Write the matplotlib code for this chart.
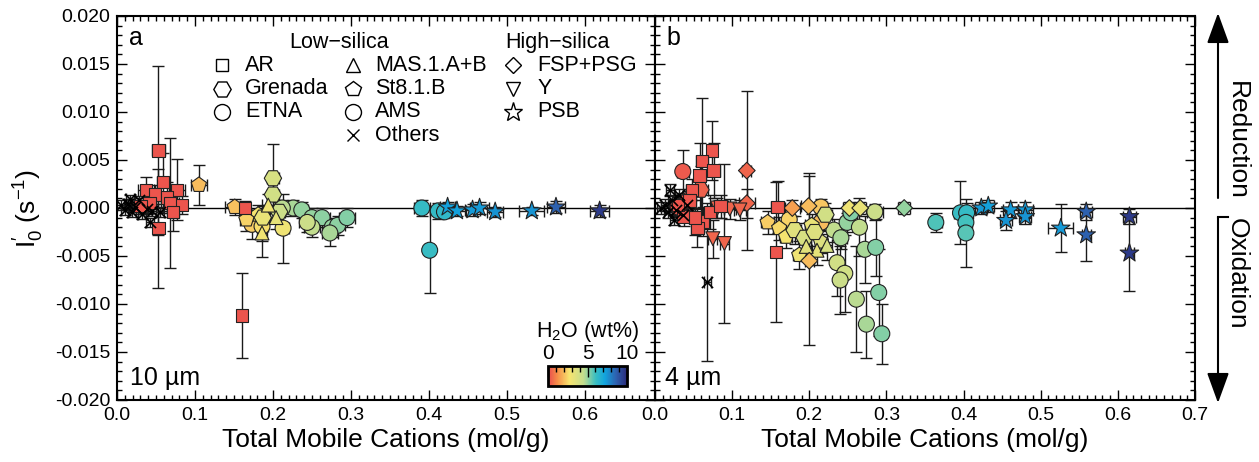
import numpy as np
import matplotlib.pyplot as plt
from matplotlib.colors import LinearSegmentedColormap
from matplotlib.cm import ScalarMappable
from matplotlib.ticker import MultipleLocator, FormatStrFormatter
from matplotlib.lines import Line2D

plt.rcParams['font.family'] = ['Liberation Sans', 'DejaVu Sans']
plt.rcParams['mathtext.fontset'] = 'custom'
plt.rcParams['mathtext.rm'] = 'Liberation Sans'
plt.rcParams['mathtext.it'] = 'Liberation Sans:italic'
plt.rcParams['mathtext.default'] = 'regular'

# ---- panel a (10 um) ----
a_kind = (['AR'] * 14 + ['Others'] * 12 + ['St8'] * 4 + ['Grenada'] * 4 + ['MAS'] * 3
          + ['ETNA'] * 3 + ['AMS'] * 11 + ['ETNA'] * 4 + ['PSB'] * 8)
a_x = [0.053, 0.037, 0.059, 0.049, 0.077, 0.064, 0.083, 0.042, 0.053, 0.164, 0.160, 0.068, 0.030, 0.072,
       0.005, 0.010, 0.014, 0.019, 0.023, 0.028, 0.032, 0.038, 0.045, 0.017, 0.055, 0.042,
       0.105, 0.151, 0.181, 0.166,
       0.200, 0.200, 0.187, 0.208,
       0.194, 0.186, 0.204,
       0.213, 0.173, 0.186,
       0.226, 0.237, 0.250, 0.263, 0.276, 0.283, 0.295, 0.212, 0.250, 0.273, 0.244,
       0.391, 0.401, 0.412, 0.420,
       0.424, 0.436, 0.456, 0.465, 0.485, 0.532, 0.563, 0.619]
a_y = [0.0060, 0.0019, 0.0027, 0.0014, 0.0019, 0.0011, 0.0003, 0.0005, -0.0021, 0.0000, -0.0112, 0.0005, 0.0002, -0.0004,
       0.0003, -0.0002, 0.0004, -0.0004, 0.0001, 0.0008, -0.0006, -0.0001, -0.0003, 0.0009, -0.0004, -0.0015,
       0.0024, 0.0001, -0.0007, -0.0012,
       0.0031, 0.0014, -0.0010, -0.0004,
       0.0003, -0.0026, -0.0010,
       -0.0021, -0.0017, -0.0019,
       0.0000, -0.0002, -0.0010, -0.0010, -0.0020, -0.0018, -0.0010, 0.0000, -0.0020, -0.0026, -0.0015,
       0.0000, -0.0044, -0.0003, -0.0004,
       0.0001, -0.0003, -0.0002, 0.0000, -0.0004, -0.0003, 0.0001, -0.0003]
a_xerr = [0.008, 0.010, 0.008, 0.006, 0.010, 0.008, 0.006, 0.008, 0.006, 0.006, 0.004, 0.012, 0.008, 0.008,
          0.005, 0.005, 0.005, 0.005, 0.005, 0.005, 0.005, 0.005, 0.005, 0.005, 0.005, 0.005,
          0.010, 0.012, 0.008, 0.008,
          0.008, 0.008, 0.008, 0.008,
          0.008, 0.006, 0.008,
          0.008, 0.008, 0.008,
          0.008, 0.008, 0.010, 0.010, 0.010, 0.010, 0.010, 0.008, 0.010, 0.010, 0.010,
          0.010, 0.006, 0.010, 0.008,
          0.010, 0.012, 0.010, 0.012, 0.010, 0.016, 0.012, 0.012]
a_yerr = [0.0088, 0.0013, 0.0030, 0.0010, 0.0032, 0.0016, 0.0009, 0.0010, 0.0062, 0.0007, 0.0044, 0.0068, 0.0008, 0.0020,
          0.0005, 0.0005, 0.0005, 0.0005, 0.0005, 0.0005, 0.0005, 0.0005, 0.0005, 0.0005, 0.0005, 0.0005,
          0.0021, 0.0008, 0.0010, 0.0012,
          0.0036, 0.0015, 0.0012, 0.0010,
          0.0012, 0.0025, 0.0012,
          0.0036, 0.0015, 0.0015,
          0.0008, 0.0008, 0.0010, 0.0010, 0.0010, 0.0010, 0.0010, 0.0008, 0.0010, 0.0014, 0.0010,
          0.0008, 0.0045, 0.0008, 0.0006,
          0.0005, 0.0005, 0.0006, 0.0006, 0.0005, 0.0004, 0.0006, 0.0006]
a_h2o = ([0.2] * 14 + [np.nan] * 12 + [2.0, 2.1, 2.8, 2.4] + [3.8, 4.0, 3.2, 4.2] + [3.0, 2.9, 3.3]
         + [3.0, 2.3, 2.6]
         + [4.8, 5.0, 5.0, 5.1, 5.0, 5.1, 5.2, 4.6, 4.5, 4.8, 4.2]
         + [6.2, 6.1, 6.2, 6.3]
         + [7.3, 7.3, 7.4, 7.4, 7.5, 7.5, 8.6, 9.6])

# ---- panel b (4 um) ----
b_kind = (['AR'] * 15 + ['ETNA'] * 3 + ['Grenada'] * 5 + ['FSP'] * 8 + ['Y'] * 5 + ['Others'] * 11
          + ['St8'] * 6 + ['MAS'] * 3 + ['ETNA'] * 3 + ['AMS'] * 20 + ['PSB'] * 11)
b_x = [0.074, 0.061, 0.076, 0.058, 0.048, 0.062, 0.159, 0.157, 0.045, 0.071, 0.037, 0.055, 0.052, 0.085, 0.030,
       0.036, 0.043, 0.030,
       0.059, 0.181, 0.194, 0.221, 0.207,
       0.119, 0.119, 0.178, 0.199, 0.252, 0.266, 0.323, 0.200,
       0.075, 0.090, 0.081, 0.097, 0.110,
       0.013, 0.017, 0.022, 0.027, 0.031, 0.036, 0.041, 0.068, 0.019, 0.008, 0.025,
       0.146, 0.161, 0.203, 0.187, 0.170, 0.215,
       0.210, 0.223, 0.196,
       0.174, 0.215, 0.215,
       0.232, 0.241, 0.249, 0.254, 0.285,
       0.265, 0.272, 0.286, 0.236, 0.246, 0.240, 0.261, 0.274, 0.290, 0.294,
       0.364, 0.396, 0.404, 0.403, 0.403,
       0.423, 0.432, 0.461, 0.455, 0.480, 0.480, 0.526, 0.559, 0.559, 0.615, 0.615]
b_y = [0.0060, 0.0049, 0.0039, 0.0034, 0.0019, -0.0014, 0.0001, -0.0046, 0.0008, -0.0004, -0.0009, -0.0021, -0.0010, 0.0002, 0.0003,
       0.0038, 0.0008, 0.0001,
       0.0019, -0.0023, -0.0031, -0.0007, -0.0025,
       0.0039, 0.0005, 0.0000, 0.0002, 0.0000, 0.0000, 0.0000, -0.0055,
       -0.0032, -0.0037, 0.0000, -0.0001, -0.0002,
       0.0003, -0.0004, 0.0008, -0.0002, 0.0014, -0.0007, 0.0003, -0.0077, 0.0019, 0.0000, -0.0012,
       -0.0015, -0.0021, -0.0018, -0.0049, -0.0030, -0.0035,
       -0.0044, -0.0039, -0.0040,
       -0.0012, 0.0001, -0.0015,
       -0.0023, -0.0031, -0.0015, -0.0005, -0.0004,
       -0.0020, -0.0043, -0.0041, -0.0057, -0.0068, -0.0075, -0.0095, -0.0121, -0.0088, -0.0131,
       -0.0015, -0.0005, -0.0005, -0.0015, -0.0026,
       0.0000, 0.0002, -0.0002, -0.0013, -0.0002, -0.0009, -0.0021, -0.0004, -0.0028, -0.0009, -0.0047]
b_xerr = [0.006, 0.008, 0.008, 0.008, 0.008, 0.008, 0.008, 0.004, 0.008, 0.008, 0.008, 0.008, 0.008, 0.010, 0.010,
          0.008, 0.008, 0.008,
          0.010, 0.008, 0.008, 0.008, 0.008,
          0.006, 0.010, 0.010, 0.010, 0.008, 0.008, 0.008, 0.006,
          0.006, 0.006, 0.008, 0.008, 0.008,
          0.005, 0.005, 0.005, 0.005, 0.005, 0.005, 0.005, 0.004, 0.005, 0.005, 0.005,
          0.008, 0.008, 0.008, 0.008, 0.008, 0.008,
          0.006, 0.006, 0.006,
          0.008, 0.008, 0.008,
          0.008, 0.008, 0.008, 0.008, 0.010,
          0.006, 0.006, 0.006, 0.006, 0.006, 0.006, 0.006, 0.006, 0.006, 0.006,
          0.008, 0.008, 0.008, 0.008, 0.006,
          0.008, 0.008, 0.010, 0.008, 0.010, 0.008, 0.016, 0.008, 0.006, 0.008, 0.006]
b_yerr = [0.0031, 0.0066, 0.0029, 0.0034, 0.0011, 0.0015, 0.0027, 0.0073, 0.0012, 0.0018, 0.0010, 0.0020, 0.0018, 0.0012, 0.0010,
          0.0022, 0.0010, 0.0010,
          0.0025, 0.0015, 0.0015, 0.0012, 0.0015,
          0.0083, 0.0015, 0.0008, 0.0034, 0.0006, 0.0006, 0.0006, 0.0088,
          0.0020, 0.0083, 0.0010, 0.0010, 0.0010,
          0.0006, 0.0006, 0.0006, 0.0006, 0.0006, 0.0006, 0.0006, 0.0082, 0.0006, 0.0006, 0.0006,
          0.0012, 0.0012, 0.0012, 0.0015, 0.0012, 0.0012,
          0.0015, 0.0015, 0.0015,
          0.0012, 0.0008, 0.0012,
          0.0012, 0.0012, 0.0010, 0.0008, 0.0008,
          0.0030, 0.0035, 0.0030, 0.0035, 0.0040, 0.0035, 0.0055, 0.0035, 0.0045, 0.0031,
          0.0010, 0.0033, 0.0010, 0.0012, 0.0035,
          0.0006, 0.0006, 0.0008, 0.0010, 0.0008, 0.0008, 0.0025, 0.0008, 0.0027, 0.0008, 0.0039]
b_h2o = ([0.2] * 15 + [0.3] * 3 + [0.4, 3.5, 3.8, 4.0, 3.6]
         + [0.5, 0.5, 1.5, 2.0, 3.0, 3.2, 5.0, 2.0]
         + [0.5] * 5 + [np.nan] * 11
         + [2.3, 2.5, 3.2, 3.0, 2.8, 3.6]
         + [3.3, 3.8, 3.4]
         + [2.4, 2.2, 2.0]
         + [4.5, 4.8, 5.0, 5.2, 4.2]
         + [4.5, 4.8, 5.2, 4.0, 4.0, 4.2, 4.6, 4.8, 5.2, 5.2]
         + [5.8, 6.1, 6.2, 5.9, 5.7]
         + [7.4, 7.3, 7.4, 7.5, 7.4, 7.5, 7.4, 8.6, 8.6, 9.6, 9.6])

leg_low1 = ['AR', 'Grenada', 'ETNA']
leg_low2 = ['MAS', 'St8', 'AMS', 'Others']
leg_high = ['FSP', 'Y', 'PSB']
names = {'AR': 'AR', 'Grenada': 'Grenada', 'ETNA': 'ETNA', 'MAS': 'MAS.1.A+B', 'St8': 'St8.1.B',
         'AMS': 'AMS', 'Others': 'Others', 'FSP': 'FSP+PSG', 'Y': 'Y', 'PSB': 'PSB'}
markers = {'AR': 's', 'Grenada': 'H', 'ETNA': 'o', 'MAS': '^', 'St8': 'p', 'AMS': 'o',
           'Others': 'x', 'FSP': 'D', 'Y': 'v', 'PSB': '*'}
msize = {'AR': 9, 'Grenada': 12.5, 'ETNA': 11.5, 'MAS': 10, 'St8': 11.5, 'AMS': 11.5,
         'Others': 8, 'FSP': 8.5, 'Y': 10, 'PSB': 14}

cmap = LinearSegmentedColormap.from_list('h2o', [
    (0.0, '#ea4a4e'), (0.12, '#f68f48'), (0.27, '#f7e46f'), (0.45, '#c3dd8e'),
    (0.6, '#3cbfc0'), (0.72, '#11a4de'), (0.86, '#2d62b0'), (1.0, '#2b2b7a')])


def draw_panel(ax, kind, x, y, xerr, yerr, h2o):
    kind = np.array(kind)
    x, y = np.array(x), np.array(y)
    h2o = np.array(h2o)
    ax.axhline(0, color='k', lw=1, zorder=1)
    ax.errorbar(x, y, xerr=xerr, yerr=yerr, fmt='none', ecolor='#1a1a1a', elinewidth=1.0,
                capsize=4.5, capthick=1.0, zorder=2)
    for k in ['AMS', 'ETNA', 'St8', 'Grenada', 'MAS', 'FSP', 'Y', 'AR', 'PSB', 'Others']:
        m = kind == k
        if not m.any():
            continue
        if k == 'Others':
            ax.scatter(x[m], y[m], marker='x', s=msize[k] ** 2, c='k', linewidths=1.2, zorder=3)
        else:
            ax.scatter(x[m], y[m], c=h2o[m], cmap=cmap, vmin=0, vmax=10, marker=markers[k],
                       s=msize[k] ** 2, edgecolors='#222222', linewidths=0.8, zorder=3)


def style_axes(ax, xmax, left_labels):
    ax.set_xlim(0, xmax)
    ax.set_ylim(-0.020, 0.020)
    ax.xaxis.set_major_locator(MultipleLocator(0.1))
    ax.xaxis.set_minor_locator(MultipleLocator(0.01))
    ax.yaxis.set_major_locator(MultipleLocator(0.005))
    ax.yaxis.set_minor_locator(MultipleLocator(0.001))
    ax.xaxis.set_major_formatter(FormatStrFormatter('%.1f'))
    ax.yaxis.set_major_formatter(FormatStrFormatter('%.3f'))
    ax.tick_params(which='both', direction='in', top=True, right=True, labelsize=14,
                   labelleft=left_labels, pad=5)
    ax.tick_params(which='major', length=7, width=1)
    ax.tick_params(which='minor', length=3.5, width=1)
    for s in ax.spines.values():
        s.set_linewidth(1.5)
    ax.set_xlabel('Total Mobile Cations (mol/g)', fontsize=19, labelpad=3)


fig = plt.figure(figsize=(12.59, 4.62), dpi=100)
ax1 = fig.add_axes([117 / 1259, 62 / 462, 538 / 1259, 384 / 462])
ax2 = fig.add_axes([655 / 1259, 62 / 462, 540 / 1259, 384 / 462])

draw_panel(ax1, a_kind, a_x, a_y, a_xerr, a_yerr, a_h2o)
draw_panel(ax2, b_kind, b_x, b_y, b_xerr, b_yerr, b_h2o)
style_axes(ax1, 0.69, True)
style_axes(ax2, 0.7, False)
ax1.set_ylabel(r"I$_0^{\prime}$ (s$^{-1}$)", fontsize=19, labelpad=6)

ax1.text(0.022, 0.975, 'a', transform=ax1.transAxes, fontsize=18, va='top')
ax2.text(0.022, 0.975, 'b', transform=ax2.transAxes, fontsize=18, va='top')
ax1.text(0.025, 0.025, '10 µm', transform=ax1.transAxes, fontsize=18, va='bottom')
ax2.text(0.018, 0.025, '4 µm', transform=ax2.transAxes, fontsize=18, va='bottom')

# legend built from open markers
row_y0, row_dy = 0.872, 0.061
for col, (mx, tx) in zip([leg_low1, leg_low2, leg_high], [(0.195, 0.238), (0.439, 0.480), (0.736, 0.781)]):
    for i, k in enumerate(col):
        yy = row_y0 - i * row_dy
        ax1.add_line(Line2D([mx], [yy], marker=markers[k], markersize=msize[k] * 1.0,
                            markerfacecolor='white', markeredgecolor='k', markeredgewidth=1.0,
                            linestyle='none', transform=ax1.transAxes))
        ax1.text(tx, yy, names[k], transform=ax1.transAxes, fontsize=15.5, va='center', ha='left')
ax1.text(0.413, 0.932, 'Low\u2212silica', transform=ax1.transAxes, fontsize=15.5, va='center', ha='center')
ax1.text(0.721, 0.932, 'High\u2212silica', transform=ax1.transAxes, fontsize=15.5, va='center', ha='left')

# colorbar
cax = fig.add_axes([548 / 1259, 76 / 462, 79 / 1259, 20 / 462])
cb = fig.colorbar(ScalarMappable(cmap=cmap, norm=plt.Normalize(0, 10)), cax=cax, orientation='horizontal')
cb.set_ticks([0, 5, 10])
cax.xaxis.set_minor_locator(MultipleLocator(1))
cax.tick_params(axis='x', which='both', direction='in', top=True, bottom=False,
                labeltop=True, labelbottom=False, labelsize=15, pad=2, width=1)
cax.tick_params(axis='x', which='major', length=8)
cax.tick_params(axis='x', which='minor', length=4)
cb.outline.set_linewidth(2)
cax.set_title('H$_2$O (wt%)', fontsize=15.5, pad=3)

# reduction / oxidation arrows
ax2.annotate('', xy=(1218 / 1259, 449 / 462), xytext=(1218 / 1259, 264 / 462),
             xycoords='figure fraction', textcoords='figure fraction', annotation_clip=False,
             arrowprops=dict(arrowstyle='-|>,head_length=0.55,head_width=0.2', color='k', lw=1.5,
                             mutation_scale=34, shrinkA=0, shrinkB=0))
ax2.annotate('', xy=(1218 / 1259, 59 / 462), xytext=(1218 / 1259, 245 / 462),
             xycoords='figure fraction', textcoords='figure fraction', annotation_clip=False,
             arrowprops=dict(arrowstyle='-|>,head_length=0.55,head_width=0.2', color='k', lw=1.5,
                             mutation_scale=34, shrinkA=0, shrinkB=0))
fig.add_artist(Line2D([1218 / 1259, 1228 / 1259], [245 / 462, 245 / 462], color='k', lw=1.5))
fig.text(1237 / 1259, 322 / 462, 'Reduction', rotation=270, fontsize=19, ha='center', va='center')
fig.text(1237 / 1259, 188 / 462, 'Oxidation', rotation=270, fontsize=19, ha='center', va='center')

fig.savefig('out.png', dpi=100)
